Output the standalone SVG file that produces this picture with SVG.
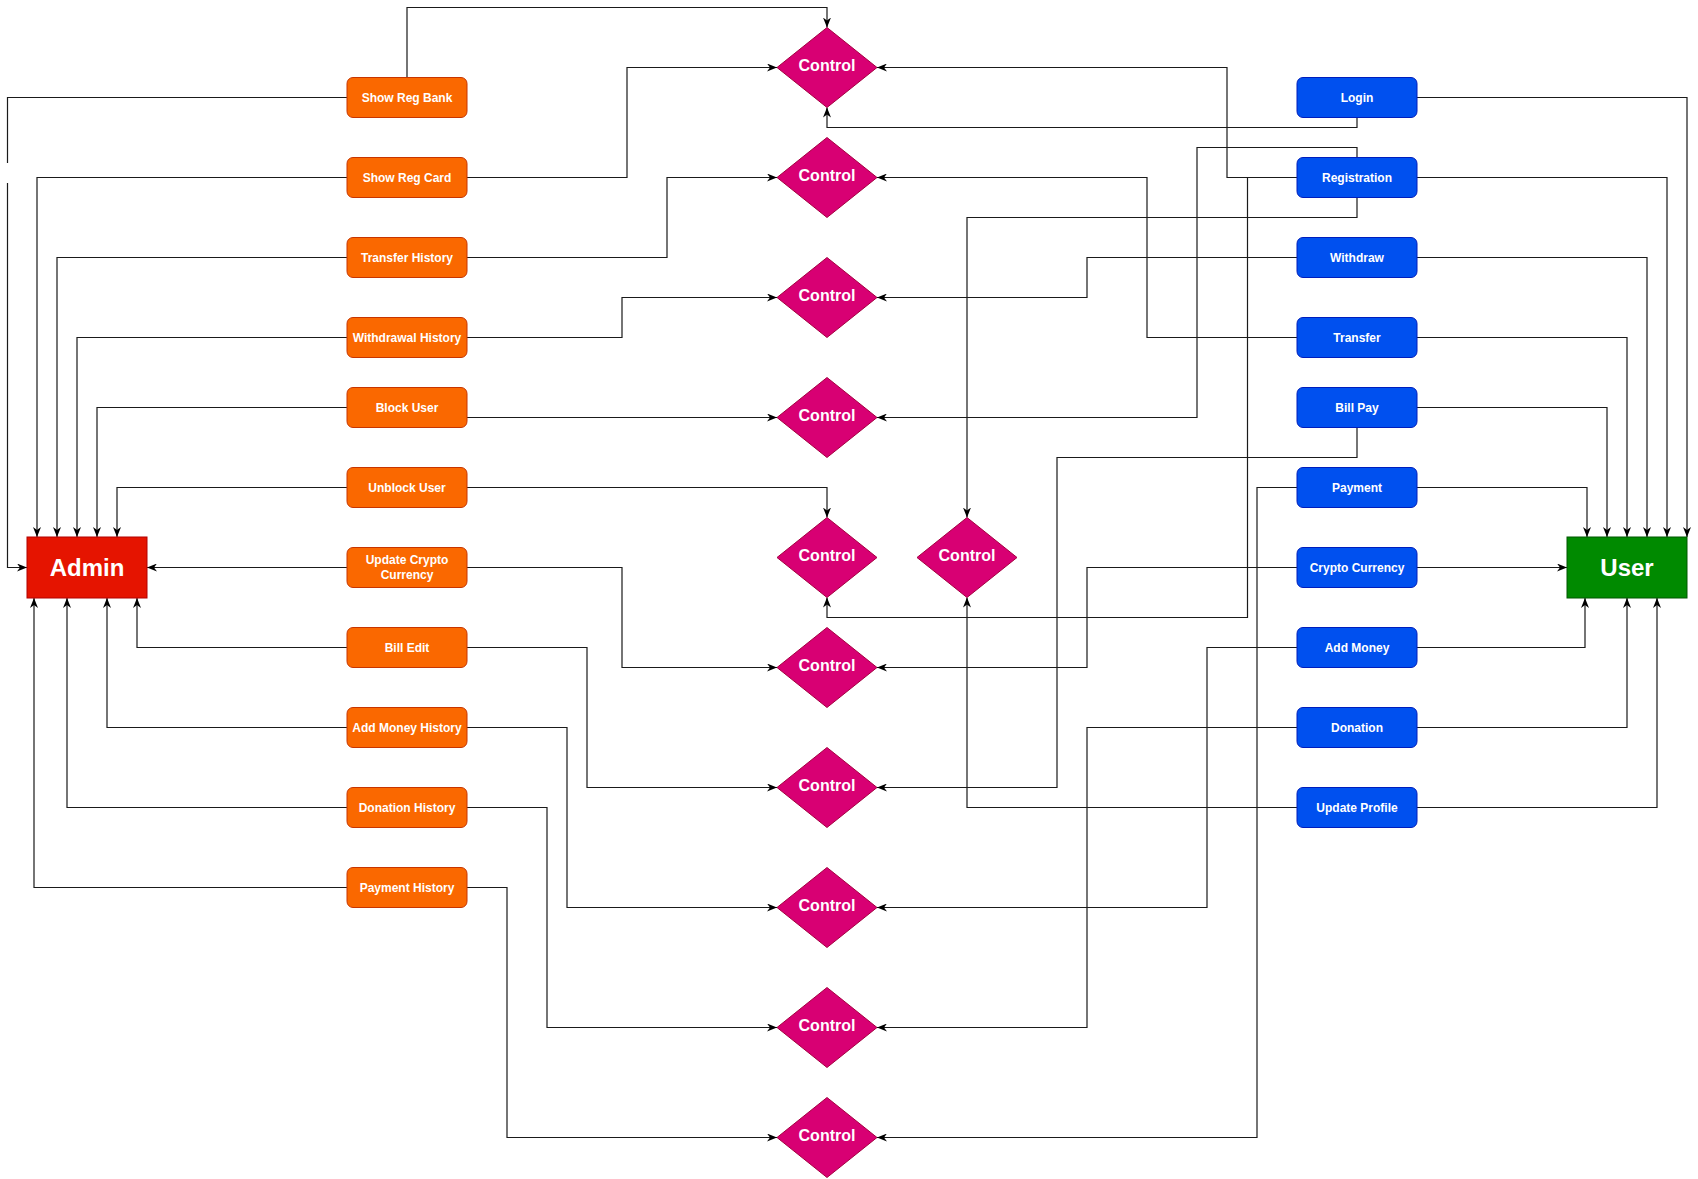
<svg xmlns="http://www.w3.org/2000/svg" width="1698" height="1179" viewBox="0 0 1698 1179">
<style>
.bg{fill:#ffffff}
.or{fill:#fa6800;stroke:#c73500;stroke-width:1}
.bl{fill:#0050ef;stroke:#001dbc;stroke-width:1}
.dm{fill:#d80073;stroke:#a50040;stroke-width:1}
.ad{fill:#e51400;stroke:#b20000;stroke-width:1}
.us{fill:#008a00;stroke:#005700;stroke-width:1}
.t{font-family:"Liberation Sans",Arial,Helvetica,sans-serif;font-weight:bold;fill:#ffffff;text-anchor:middle}
.s{font-size:12px}
.m{font-size:16px}
.l{font-size:24px}
.c path{fill:none;stroke:#1a1a1a;stroke-width:1.2}
.c path.a{marker-end:url(#arr)}
</style>
<defs>
<marker id="arr" markerUnits="userSpaceOnUse" viewBox="0 0 10 8" markerWidth="10" markerHeight="8" refX="10" refY="4" orient="auto">
<path d="M0,0 L10,4 L0,8 L3,4 Z" fill="#000000" stroke="none"/>
</marker>
</defs>
<rect class="bg" x="0" y="0" width="1698" height="1179"/>

<g id="connectors" class="c">
<!-- orange to Admin -->
<path d="M347,97.5 H7.5 V163"/>
<path class="a" d="M7.5,183 V567.5 H27"/>
<path class="a" d="M347,177.5 H37 V537"/>
<path class="a" d="M347,257.5 H57 V537"/>
<path class="a" d="M347,337.5 H77 V537"/>
<path class="a" d="M347,407.5 H97 V537"/>
<path class="a" d="M347,487.5 H117 V537"/>
<path class="a" d="M347,567.5 H147"/>
<path class="a" d="M347,647.5 H137 V598"/>
<path class="a" d="M347,727.5 H107 V598"/>
<path class="a" d="M347,807.5 H67 V598"/>
<path class="a" d="M347,887.5 H34 V598"/>
<!-- orange to Control -->
<path class="a" d="M407,77.5 V7.5 H827 V27.5"/>
<path class="a" d="M467,177.5 H627 V67.5 H777"/>
<path class="a" d="M467,257.5 H667 V177.5 H777"/>
<path class="a" d="M467,337.5 H622 V297.5 H777"/>
<path class="a" d="M467,417.5 H777"/>
<path class="a" d="M467,487.5 H827 V517.5"/>
<path class="a" d="M467,567.5 H622 V667.5 H777"/>
<path class="a" d="M467,647.5 H587 V787.5 H777"/>
<path class="a" d="M467,727.5 H567 V907.5 H777"/>
<path class="a" d="M467,807.5 H547 V1027.5 H777"/>
<path class="a" d="M467,887.5 H507 V1137.5 H777"/>
<!-- blue to User -->
<path class="a" d="M1417,97.5 H1687 V537"/>
<path class="a" d="M1417,177.5 H1667 V537"/>
<path class="a" d="M1417,257.5 H1647 V537"/>
<path class="a" d="M1417,337.5 H1627 V537"/>
<path class="a" d="M1417,407.5 H1607 V537"/>
<path class="a" d="M1417,487.5 H1587 V537"/>
<path class="a" d="M1417,567.5 H1567"/>
<path class="a" d="M1417,647.5 H1585 V598"/>
<path class="a" d="M1417,727.5 H1627 V598"/>
<path class="a" d="M1417,807.5 H1657 V598"/>
<!-- blue to Control -->
<path class="a" d="M1357,117.5 V127.5 H827 V107.5"/>
<path class="a" d="M1297,177.5 H1227 V67.5 H877"/>
<path class="a" d="M1357,157.5 V147.5 H1197 V417.5 H877"/>
<path class="a" d="M1357,197.5 V217.5 H967 V517.5"/>
<path class="a" d="M1297,177.5 H1247.5 V617.5 H827 V597.5"/>
<path class="a" d="M1297,337.5 H1147 V177.5 H877"/>
<path class="a" d="M1297,257.5 H1087 V297.5 H877"/>
<path class="a" d="M1357,427.5 V457.5 H1057 V787.5 H877"/>
<path class="a" d="M1297,487.5 H1257 V1137.5 H877"/>
<path class="a" d="M1297,567.5 H1087 V667.5 H877"/>
<path class="a" d="M1297,647.5 H1207 V907.5 H877"/>
<path class="a" d="M1297,727.5 H1087 V1027.5 H877"/>
<path class="a" d="M1297,807.5 H967 V597.5"/>
</g>

<g id="admin"><rect class="ad" x="27" y="537" width="120" height="61"/><text class="t l" x="87" y="576">Admin</text></g>
<g id="user"><rect class="us" x="1567" y="537" width="120" height="61"/><text class="t l" x="1627" y="576">User</text></g>

<g id="show-reg-bank"><rect class="or" x="347" y="77.5" width="120" height="40" rx="6"/><text class="t s" x="407" y="101.8">Show Reg Bank</text></g>
<g id="show-reg-card"><rect class="or" x="347" y="157.5" width="120" height="40" rx="6"/><text class="t s" x="407" y="181.8">Show Reg Card</text></g>
<g id="transfer-history"><rect class="or" x="347" y="237.5" width="120" height="40" rx="6"/><text class="t s" x="407" y="261.8">Transfer History</text></g>
<g id="withdrawal-history"><rect class="or" x="347" y="317.5" width="120" height="40" rx="6"/><text class="t s" x="407" y="341.8">Withdrawal History</text></g>
<g id="block-user"><rect class="or" x="347" y="387.5" width="120" height="40" rx="6"/><text class="t s" x="407" y="411.8">Block User</text></g>
<g id="unblock-user"><rect class="or" x="347" y="467.5" width="120" height="40" rx="6"/><text class="t s" x="407" y="491.8">Unblock User</text></g>
<g id="update-crypto-currency"><rect class="or" x="347" y="547.5" width="120" height="40" rx="6"/><text class="t s" x="407" y="564">Update Crypto</text><text class="t s" x="407" y="579">Currency</text></g>
<g id="bill-edit"><rect class="or" x="347" y="627.5" width="120" height="40" rx="6"/><text class="t s" x="407" y="651.8">Bill Edit</text></g>
<g id="add-money-history"><rect class="or" x="347" y="707.5" width="120" height="40" rx="6"/><text class="t s" x="407" y="731.8">Add Money History</text></g>
<g id="donation-history"><rect class="or" x="347" y="787.5" width="120" height="40" rx="6"/><text class="t s" x="407" y="811.8">Donation History</text></g>
<g id="payment-history"><rect class="or" x="347" y="867.5" width="120" height="40" rx="6"/><text class="t s" x="407" y="891.8">Payment History</text></g>

<g id="login"><rect class="bl" x="1297" y="77.5" width="120" height="40" rx="6"/><text class="t s" x="1357" y="101.8">Login</text></g>
<g id="registration"><rect class="bl" x="1297" y="157.5" width="120" height="40" rx="6"/><text class="t s" x="1357" y="181.8">Registration</text></g>
<g id="withdraw"><rect class="bl" x="1297" y="237.5" width="120" height="40" rx="6"/><text class="t s" x="1357" y="261.8">Withdraw</text></g>
<g id="transfer"><rect class="bl" x="1297" y="317.5" width="120" height="40" rx="6"/><text class="t s" x="1357" y="341.8">Transfer</text></g>
<g id="bill-pay"><rect class="bl" x="1297" y="387.5" width="120" height="40" rx="6"/><text class="t s" x="1357" y="411.8">Bill Pay</text></g>
<g id="payment"><rect class="bl" x="1297" y="467.5" width="120" height="40" rx="6"/><text class="t s" x="1357" y="491.8">Payment</text></g>
<g id="crypto-currency"><rect class="bl" x="1297" y="547.5" width="120" height="40" rx="6"/><text class="t s" x="1357" y="571.8">Crypto Currency</text></g>
<g id="add-money"><rect class="bl" x="1297" y="627.5" width="120" height="40" rx="6"/><text class="t s" x="1357" y="651.8">Add Money</text></g>
<g id="donation"><rect class="bl" x="1297" y="707.5" width="120" height="40" rx="6"/><text class="t s" x="1357" y="731.8">Donation</text></g>
<g id="update-profile"><rect class="bl" x="1297" y="787.5" width="120" height="40" rx="6"/><text class="t s" x="1357" y="811.8">Update Profile</text></g>

<g id="control-1"><path class="dm" d="M827,27.5 L877,67.5 L827,107.5 L777,67.5 Z"/><text class="t m" x="827" y="71">Control</text></g>
<g id="control-2"><path class="dm" d="M827,137.5 L877,177.5 L827,217.5 L777,177.5 Z"/><text class="t m" x="827" y="181">Control</text></g>
<g id="control-3"><path class="dm" d="M827,257.5 L877,297.5 L827,337.5 L777,297.5 Z"/><text class="t m" x="827" y="301">Control</text></g>
<g id="control-4"><path class="dm" d="M827,377.5 L877,417.5 L827,457.5 L777,417.5 Z"/><text class="t m" x="827" y="421">Control</text></g>
<g id="control-5"><path class="dm" d="M827,517.5 L877,557.5 L827,597.5 L777,557.5 Z"/><text class="t m" x="827" y="561">Control</text></g>
<g id="control-6"><path class="dm" d="M967,517.5 L1017,557.5 L967,597.5 L917,557.5 Z"/><text class="t m" x="967" y="561">Control</text></g>
<g id="control-7"><path class="dm" d="M827,627.5 L877,667.5 L827,707.5 L777,667.5 Z"/><text class="t m" x="827" y="671">Control</text></g>
<g id="control-8"><path class="dm" d="M827,747.5 L877,787.5 L827,827.5 L777,787.5 Z"/><text class="t m" x="827" y="791">Control</text></g>
<g id="control-9"><path class="dm" d="M827,867.5 L877,907.5 L827,947.5 L777,907.5 Z"/><text class="t m" x="827" y="911">Control</text></g>
<g id="control-10"><path class="dm" d="M827,987.5 L877,1027.5 L827,1067.5 L777,1027.5 Z"/><text class="t m" x="827" y="1031">Control</text></g>
<g id="control-11"><path class="dm" d="M827,1097.5 L877,1137.5 L827,1177.5 L777,1137.5 Z"/><text class="t m" x="827" y="1141">Control</text></g>
</svg>
